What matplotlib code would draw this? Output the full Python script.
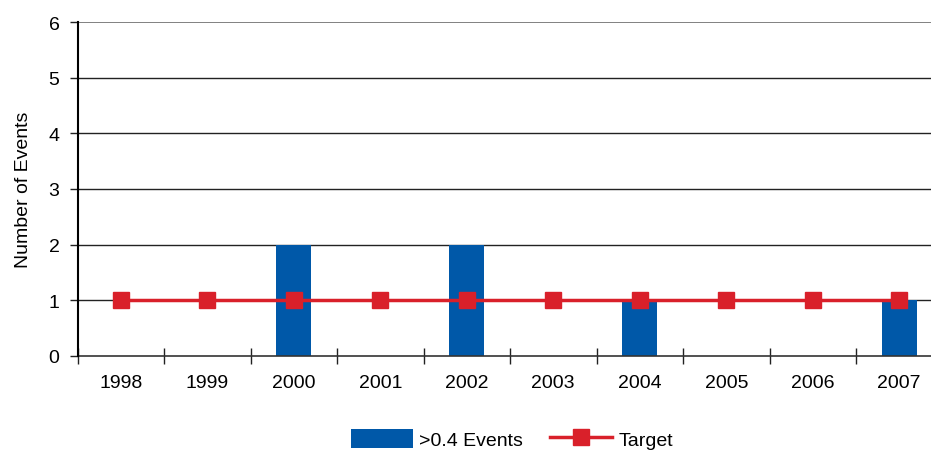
import numpy as np
import matplotlib.pyplot as plt
from matplotlib import font_manager

years = ["1998", "1999", "2000", "2001", "2002", "2003", "2004", "2005", "2006", "2007"]
events = [0, 0, 2, 0, 2, 0, 1, 0, 0, 1]
target = [1, 1, 1, 1, 1, 1, 1, 1, 1, 1]
y_ticks = [0, 1, 2, 3, 4, 5, 6]

BLUE = "#0058a8"
RED = "#d9202a"

names = {f.name for f in font_manager.fontManager.ttflist}
fam = "Liberation Sans Narrow" if "Liberation Sans Narrow" in names else "Liberation Sans"
plt.rcParams["font.family"] = [fam, "DejaVu Sans"]
FS = 14

W, H = 931, 452
fig = plt.figure(figsize=(W / 100, H / 100), dpi=100)
# right edge of the plot runs a little past the canvas
ax = fig.add_axes([77.5 / W, (H - 357) / H, 865 / W, 334 / H])

x = np.arange(len(years))
bars = ax.bar(x, events, width=0.4, color=BLUE, zorder=2, label=">0.4 Events")
line, = ax.plot(x, target, color=RED, lw=2.5, marker="s", ms=11.5, zorder=3, label="Target")

ax.set_xlim(-0.5, len(years) - 0.5)
ax.set_ylim(0, 6)
ax.set_yticks(y_ticks)
ax.set_yticklabels([str(v) for v in y_ticks], fontsize=FS)
for v in y_ticks[1:]:
    ax.axhline(v, color="#777777" if v == 6 else "#222222", lw=1.3 if v == 6 else 1.0, zorder=1)

# category labels sit between boundary ticks
ax.set_xticks(x)
ax.set_xticklabels(years, fontsize=FS)
ax.tick_params(axis="x", length=0, pad=13)
ax.set_xticks(np.arange(-0.5, len(years), 1), minor=True)
ax.tick_params(axis="x", which="minor", length=12, direction="inout", width=1, color="#222222")
ax.tick_params(axis="y", length=6, width=1, color="#222222", pad=7)

for s in ["top", "right"]:
    ax.spines[s].set_visible(False)
ax.spines["left"].set_linewidth(1.5)
ax.spines["left"].set_zorder(4)
ax.spines["bottom"].set_color("#333333")
ax.spines["bottom"].set_linewidth(1.2)

ax.set_ylabel("Number of Events", fontsize=FS, labelpad=12)

fig.legend([bars, line], [">0.4 Events", "Target"], loc="center",
           bbox_to_anchor=(512 / W, (H - 440) / H), ncol=2, frameon=False,
           fontsize=FS, handlelength=3.2, handleheight=1.1, columnspacing=1.4, handletextpad=0.3,
           borderpad=0.2)

fig.savefig("out.png", dpi=100)
